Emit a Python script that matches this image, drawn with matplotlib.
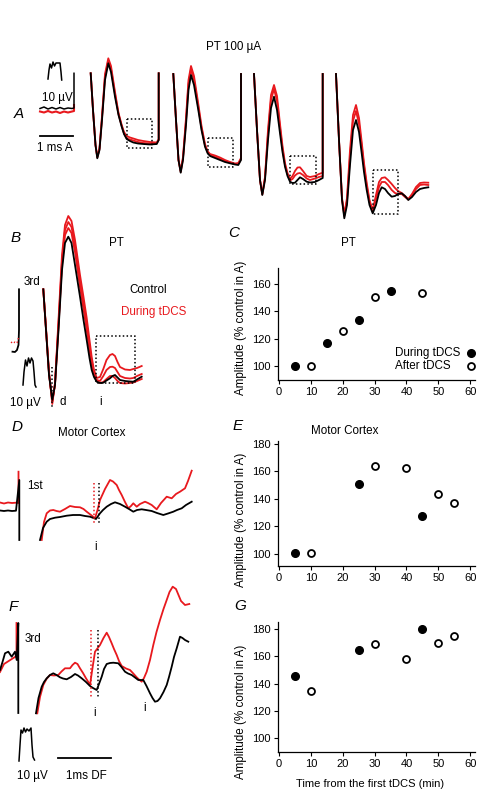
import matplotlib
matplotlib.use("Agg")
import matplotlib.pyplot as plt

plt.rcParams['font.family'] = ['Liberation Sans', 'DejaVu Sans']

RED = '#e8191e'

# ---------------- scatter data (C, E, G) ----------------
c_during_t = [5, 15, 25, 35]
c_during_v = [100, 116.5, 133.5, 154.8]
c_after_t = [10, 20, 30, 45]
c_after_v = [100, 125.5, 150.5, 153.5]

e_during_t = [5, 25, 45]
e_during_v = [100.7, 150.6, 127.7]
e_after_t = [10, 30, 40, 50, 55]
e_after_v = [100.3, 163.7, 162.3, 143.3, 137]

g_during_t = [5, 25, 45]
g_during_v = [145.6, 164.6, 179.8]
g_after_t = [10, 30, 40, 50, 55]
g_after_v = [134.4, 169, 157.8, 170, 174.6]

xticks = [0, 10, 20, 30, 40, 50, 60]
c_yticks = [100, 120, 140, 160]
eg_yticks = [100, 120, 140, 160, 180]

# ---------------- traces (pixel units) ----------------
# A, group 1
a1_x = [90.7, 93, 95.5, 97.3, 99.5, 102, 105, 108.3, 111, 115, 118.5, 121.7, 124, 126.7, 130, 133.3, 138, 143.3, 150, 156.7, 158.7, 158.7]
a1_k = [73.3, 110, 145, 158.3, 150, 120, 80, 63.3, 72, 96.7, 115, 126.7, 134, 139, 141, 142.5, 143.5, 144, 144.5, 144, 140, 73.3]
a1_r1 = [73.3, 110, 145, 157, 148, 116, 74, 58.3, 66, 92, 113, 125, 132, 136, 137.5, 138.5, 140, 141, 142, 142.5, 139, 73.3]
a1_r2 = [73.3, 110, 145, 157.5, 149, 118, 77, 60.5, 69, 94, 114, 126, 133.5, 138.5, 139.5, 140.5, 142, 143, 143.5, 143.5, 140, 73.3]
# A, group 2
a2_x = [173.3, 176, 178.5, 180.7, 183, 186, 188.5, 191, 194, 198.3, 201.5, 205, 207.5, 210, 215, 220, 225, 230, 235, 238.3, 241, 241]
a2_k = [74, 120, 160, 172.7, 160, 125, 90, 75, 85, 110, 130, 146.7, 153, 156, 158, 160, 162, 163.3, 164.5, 165, 160, 74]
a2_r1 = [74, 120, 160, 171, 157, 118, 80, 66, 76, 104, 126, 144, 151, 154, 155.5, 157.5, 160, 162, 163.5, 163, 158, 74]
a2_r2 = [74, 120, 160, 172, 158.5, 121, 84, 69.5, 80, 107, 128, 145.5, 152, 155, 157, 159, 161, 162.5, 164, 164, 159, 74]
# A, group 3
a3_x = [254, 257, 260, 262.3, 265, 268, 271, 274, 277, 280, 282.5, 285, 287.5, 290, 292.5, 295, 297.5, 300, 303, 306.7, 310, 315, 319, 322.7, 322.7]
a3_k = [74, 130, 180, 195, 180, 140, 108, 96.7, 110, 133.3, 152, 166.7, 176, 181.7, 183, 182.7, 180, 177.3, 179, 181.7, 182.5, 182, 180, 178, 74]
a3_r1 = [74, 130, 180, 194, 177, 130, 95, 85, 96, 124, 146, 163, 173, 179, 176, 171, 167.5, 167.3, 171, 176, 177, 176, 174, 172.7, 74]
a3_r2 = [74, 130, 180, 194.5, 178, 134, 100, 89, 101, 128, 149, 165, 174.5, 180.5, 179, 175.5, 173.5, 173, 175, 178.5, 180, 178.5, 177, 176, 74]
# A, group 4
a4_x = [336, 339, 342, 344.3, 347, 350, 353, 356, 359, 361.7, 364, 366.7, 369.5, 372.7, 376, 379, 381.7, 385, 388, 391.7, 395, 398, 401.7, 405, 408.3, 412, 416, 420, 424, 428.3]
a4_k = [74, 140, 200, 218.3, 205, 165, 130, 120, 132, 153.3, 172, 190, 205, 213.3, 205, 193, 187.3, 189, 193, 196.7, 196, 194, 193.3, 196, 200, 197, 192, 189, 188, 187.3]
a4_r1 = [74, 140, 198, 214, 198, 150, 115, 105, 118, 142, 163, 183, 200, 210, 195, 182, 178, 177.3, 180, 184, 188, 191, 193, 196, 199, 194, 187, 183, 182.5, 182.7]
a4_r2 = [74, 140, 199, 216, 201, 157, 121, 111, 124, 146, 166, 186, 202, 211.5, 199, 187, 182, 182, 185, 190, 193, 194, 194, 197, 199.5, 195, 189, 185, 184.5, 185]
# A, calibration and baseline
a_cal_x = [48, 49, 50, 51.5, 53, 54.5, 56, 58, 60, 61, 61.7]
a_cal_y = [79, 70, 64, 68, 62, 66, 63, 63, 63, 72, 80]
a_base_x = [40, 44, 48, 52, 56, 60, 64, 68, 72, 74, 74]
a_base_k = [108.5, 107, 109, 107.5, 109, 107.5, 109, 108, 108.5, 108, 73.3]
a_base_r = [111.5, 112.5, 111, 112.5, 111.5, 113, 111.5, 112.5, 111.5, 111, 105]

# B
b_x = [43.3, 46, 49, 52.3, 55, 58.5, 62, 65, 68.3, 71.5, 75, 80, 83.5, 86.7, 89.5, 91.7, 94, 96.7, 100, 103.3, 106.5, 110, 112.5, 115, 117.5, 120, 125, 130, 133.3, 137, 141.7]
b_k = [289.3, 330, 375, 400, 385, 330, 270, 243, 236.7, 243, 265, 296.7, 320, 340, 358, 370, 377, 381.7, 383, 382.7, 380.5, 378.3, 376, 375, 377.5, 380, 381, 381.5, 381.7, 379.5, 376.7]
b_r1 = [289.3, 328, 372, 404, 383, 320, 255, 225, 216, 221, 240, 275, 297, 318, 340, 357, 370, 378, 377, 369, 360, 355, 354, 356, 362, 367, 369.5, 370, 369, 368, 366]
b_r2 = [289.3, 329, 373, 402, 384, 324, 261, 230, 222, 227, 246, 282, 304, 324, 346, 362, 373, 380, 381, 376, 370, 367, 366.7, 368, 372, 376, 378, 378.5, 378, 376, 374]
b_r3 = [289.3, 329.5, 374, 401, 384.5, 327, 265, 235, 228, 233, 252, 287, 309, 330, 350, 365, 375, 381, 383, 382, 379, 376, 376, 378, 381, 383, 383.5, 383, 382.5, 381, 379]
b_left_x = [19, 19, 18.5, 17, 15, 12.5]
b_left_y = [289.3, 330, 345, 350, 352, 351.7]
b_left_rx = [11, 13, 15, 17, 18.5]
b_left_ry = [342, 343.5, 342, 343, 338]
b_cal_x = [23, 24, 25.5, 27, 28.5, 30, 31.5, 33, 34, 35, 36]
b_cal_y = [385, 372, 360, 366, 358, 363, 358, 361, 372, 385, 387]

# D
d_kx = [40, 43, 46.7, 50, 55, 60, 66.7, 73, 80, 85, 90, 96, 100, 103, 106.7, 111, 115, 120, 125, 129, 133.3, 137, 141.7, 146, 151.7, 157, 163.3, 168, 173.3, 177, 181.7, 186, 191.7]
d_ky = [540, 528, 521.7, 519, 517.7, 517, 515.7, 515, 515, 516, 516.7, 519, 513.3, 510, 506.7, 504, 502.3, 504, 506.7, 509, 511.7, 510, 509.3, 510, 511, 513, 515, 513.5, 511.7, 510, 508.3, 505, 501.7]
d_rx = [41.7, 44, 46.7, 50, 53.3, 56.5, 60, 65, 70, 75, 80, 83.5, 86.7, 91, 95, 97.5, 100, 105, 110, 113, 116.7, 119, 121.7, 125, 128.3, 131, 133.3, 136.7, 140, 145, 148, 151.7, 154, 156.7, 161, 166.7, 171.7, 176, 180, 185, 188, 191.7]
d_ry = [540, 522, 513.3, 510.5, 510, 511, 511.7, 509, 506, 507, 507.3, 509, 511.7, 515, 518.3, 510, 500, 489, 480, 481.5, 485, 490, 495, 502, 508.3, 506, 503.3, 506.7, 504, 501.7, 503, 505, 507, 509.3, 503, 496.7, 498.3, 494, 491.7, 488.3, 481, 470.7]
d_left_kx = [0, 4, 8, 12, 16, 19.3, 19.3]
d_left_ky = [510.5, 511, 510.5, 511, 510.7, 480, 540]
d_left_rx = [0, 4, 8, 12, 16, 18.5, 18.5]
d_left_ry = [502.5, 503.5, 502.5, 503, 502.7, 503, 471.7]

# F
f_kx = [36, 38.5, 41.7, 44, 46.7, 50, 53.3, 56.5, 60, 63, 66.7, 71, 75, 78, 81.7, 86, 90, 93, 96.7, 99, 101.7, 104, 106.7, 110, 113.3, 118.3, 121.5, 125, 128, 131.7, 135, 138.3, 143.3, 146.5, 150, 152.5, 155, 157.5, 160, 163.5, 166.7, 169, 171.7, 174, 176.7, 180, 182.5, 185, 188.3]
f_ky = [713.3, 698, 686.7, 682, 678.3, 675, 673.3, 675, 677.3, 678.5, 679.3, 677, 674, 675.5, 678.3, 682, 686, 688, 690, 684, 676.7, 669, 664, 663, 662.7, 663.3, 667, 671.7, 673.5, 675, 677.5, 680, 680, 686, 693.3, 698, 701.7, 701, 698.3, 692, 685, 677, 666.7, 657, 648.3, 636.7, 638, 640, 641.7]
f_rx = [37.3, 40, 43.3, 46.5, 50, 54, 58.3, 61.5, 65, 70, 72.5, 75, 77.5, 80, 83, 86, 88, 90, 92.5, 95, 100, 103.5, 106.7, 109, 111.7, 114, 116.7, 119, 121.7, 126, 130, 133.3, 136.7, 139, 141.7, 144, 146.7, 150, 153.3, 156.5, 160, 163.5, 166.7, 169.5, 172.7, 176, 178.5, 181, 185, 189.3]
f_ry = [713.3, 697, 685, 679, 675, 675.5, 675, 671.5, 668.3, 668.3, 665, 662.7, 664, 668.3, 673, 678.3, 681.5, 685, 668, 651.7, 645, 638, 632.7, 637, 643.3, 649, 655, 661, 666, 668.5, 670, 673.5, 677.3, 679.5, 681.7, 678, 671.7, 660, 645, 632, 620, 609, 600, 592, 586.7, 589, 595, 601, 605, 604]
f_left_kx = [0, 2.5, 5, 8.3, 11.7, 15, 16.7, 18.3, 18.3]
f_left_ky = [670, 662, 653.3, 651.7, 656.7, 651.7, 660, 623, 713]
f_left_rx = [0, 2, 4, 16.5, 16.5]
f_left_ry = [672, 668, 664, 656, 623]
f_cal_x = [19, 20, 21, 22.5, 24, 25.5, 27, 29, 31, 32, 33, 34.5]
f_cal_y = [761, 745, 730, 733, 728, 732, 729, 731, 728, 745, 757, 760]

# dotted boxes (x0, x1, y0, y1)
boxes = [(126.7, 151.7, 119.3, 148.3), (207.7, 233.3, 138.3, 167.3),
         (290, 316, 155.7, 184), (372.7, 398.3, 170, 214), (95.7, 135, 336, 383.3)]
# dotted markers: (x, y0, y1, colour)
dot_marks = [(52.3, 366.7, 408.3, 'k'), (94.3, 483, 525, RED), (98.7, 483, 525, 'k'),
             (90.7, 630, 696.7, RED), (97.7, 630, 696.7, 'k')]

# ---------------- figure ----------------
fig = plt.figure(figsize=(4.8, 7.94), dpi=100)
ov = fig.add_axes([0, 0, 1, 1])
ov.set_xlim(0, 480)
ov.set_ylim(794, 0)
ov.axis('off')

lw = 1.3
for xs, k, r1, r2 in [(a1_x, a1_k, a1_r1, a1_r2), (a2_x, a2_k, a2_r1, a2_r2),
                      (a3_x, a3_k, a3_r1, a3_r2), (a4_x, a4_k, a4_r1, a4_r2)]:
    ov.plot(xs, r1, color=RED, lw=lw)
    ov.plot(xs, r2, color=RED, lw=lw)
    ov.plot(xs, k, color='black', lw=lw)
ov.plot(a_cal_x, a_cal_y, color='black', lw=1.1)
ov.plot(a_base_x, a_base_r, color=RED, lw=1.5)
ov.plot(a_base_x, a_base_k, color='black', lw=1.1)

for r in [b_r1, b_r2, b_r3]:
    ov.plot(b_x, r, color=RED, lw=lw)
ov.plot(b_x, b_k, color='black', lw=lw)
ov.plot(b_left_x, b_left_y, color='black', lw=lw)
ov.plot(b_left_rx, b_left_ry, color=RED, lw=1.0, ls=':')
ov.plot(b_cal_x, b_cal_y, color='black', lw=1.1)

ov.plot(d_rx, d_ry, color=RED, lw=lw)
ov.plot(d_kx, d_ky, color='black', lw=lw)
ov.plot(d_left_rx, d_left_ry, color=RED, lw=lw)
ov.plot(d_left_kx, d_left_ky, color='black', lw=lw)

ov.plot(f_rx, f_ry, color=RED, lw=lw)
ov.plot(f_kx, f_ky, color='black', lw=lw)
ov.plot(f_left_rx, f_left_ry, color=RED, lw=lw)
ov.plot(f_left_kx, f_left_ky, color='black', lw=lw)
ov.plot(f_cal_x, f_cal_y, color='black', lw=1.1)

for x0, x1, y0, y1 in boxes:
    ov.plot([x0, x1, x1, x0, x0], [y0, y0, y1, y1, y0], color='black', lw=1.1, ls=(0, (1, 1.5)))
for x, y0, y1, c in dot_marks:
    ov.plot([x, x], [y0, y1], color=c, lw=1.1, ls=(0, (1, 1.5)))

# scale bars
ov.plot([40, 72.7], [136, 136], color='black', lw=1.3)
ov.plot([58, 111], [758, 758], color='black', lw=1.3)

fs = 8.4
lf = 11
ov.text(234, 47, 'PT 100 µA', fontsize=fs, ha='center', va='center')
ov.text(57.5, 97.5, '10 µV', fontsize=fs, ha='center', va='center')
ov.text(55, 148.3, '1 ms A', fontsize=fs, ha='center', va='center')
ov.text(19, 114, 'A', fontsize=lf, style='italic', ha='center', va='center')
ov.text(16, 237.5, 'B', fontsize=lf, style='italic', ha='center', va='center')
ov.text(116.7, 243.3, 'PT', fontsize=fs, ha='center', va='center')
ov.text(31.7, 281.7, '3rd', fontsize=fs, ha='center', va='center')
ov.text(148.3, 290, 'Control', fontsize=fs, ha='center', va='center')
ov.text(153.3, 311.7, 'During tDCS', fontsize=fs, ha='center', va='center', color=RED)
ov.text(25, 403.3, '10 µV', fontsize=fs, ha='center', va='center')
ov.text(62.3, 401.7, 'd', fontsize=fs, ha='center', va='center')
ov.text(100.7, 401.7, 'i', fontsize=fs, ha='center', va='center')
ov.text(16.7, 427, 'D', fontsize=lf, style='italic', ha='center', va='center')
ov.text(91.7, 432.7, 'Motor Cortex', fontsize=fs, ha='center', va='center')
ov.text(35, 486, '1st', fontsize=fs, ha='center', va='center')
ov.text(96, 546.7, 'i', fontsize=fs, ha='center', va='center')
ov.text(13.3, 606.7, 'F', fontsize=lf, style='italic', ha='center', va='center')
ov.text(33.3, 639.3, '3rd', fontsize=fs, ha='center', va='center')
ov.text(95, 712.7, 'i', fontsize=fs, ha='center', va='center')
ov.text(145, 708.3, 'i', fontsize=fs, ha='center', va='center')
ov.text(32, 776, '10 µV', fontsize=fs, ha='center', va='center')
ov.text(86, 776, '1ms DF', fontsize=fs, ha='center', va='center')
ov.text(234, 233, 'C', fontsize=lf, style='italic', ha='center', va='center')
ov.text(238, 426, 'E', fontsize=lf, style='italic', ha='center', va='center')
ov.text(240, 606, 'G', fontsize=lf, style='italic', ha='center', va='center')
ov.text(348.3, 242.7, 'PT', fontsize=fs, ha='center', va='center')
ov.text(370, 784, 'Time from the first tDCS (min)', fontsize=8, ha='center', va='center')
for yc in [328, 520, 712]:
    ov.text(241, yc, 'Amplitude (% control in A)', fontsize=fs, rotation=90, ha='center', va='center')


def scatter_panel(rect, dt, dv, at, av, ylim, yticks):
    ax = fig.add_axes(rect)
    ax.plot(dt, dv, 'o', color='black', ms=5.5, ls='none')
    ax.plot(at, av, 'o', mfc='white', mec='black', mew=1.3, ms=5.0, ls='none')
    ax.set_xlim(-0.4, 61.5)
    ax.set_ylim(*ylim)
    ax.set_xticks(xticks)
    ax.set_yticks(yticks)
    for s in ['top', 'right']:
        ax.spines[s].set_visible(False)
    for s in ['left', 'bottom']:
        ax.spines[s].set_linewidth(0.9)
    ax.tick_params(direction='out', length=3, width=0.8, labelsize=8, pad=2)
    ax.patch.set_alpha(0)
    return ax


axc = scatter_panel([277.7 / 480, 1 - 380 / 794, 197.3 / 480, 112 / 794],
                    c_during_t, c_during_v, c_after_t, c_after_v, (89.4, 172), c_yticks)
axc.plot([60.3], [109.2], 'o', color='black', ms=5.5, clip_on=False)
axc.plot([60.3], [99.5], 'o', mfc='white', mec='black', mew=1.3, ms=5.0, clip_on=False)
axc.text(36.3, 109.2, 'During tDCS', fontsize=fs, va='center', ha='left')
axc.text(36.3, 99.5, 'After tDCS', fontsize=fs, va='center', ha='left')

axe = scatter_panel([277.7 / 480, 1 - 566 / 794, 197.3 / 480, 125 / 794],
                    e_during_t, e_during_v, e_after_t, e_after_v, (91.2, 182), eg_yticks)
axe.text(20.5, 189, 'Motor Cortex', fontsize=fs, ha='center', va='center')

axg = scatter_panel([277.7 / 480, 1 - 751.7 / 794, 197.3 / 480, 129.7 / 794],
                    g_during_t, g_during_v, g_after_t, g_after_v, (90.2, 185), eg_yticks)

fig.savefig('out.png', dpi=100)
